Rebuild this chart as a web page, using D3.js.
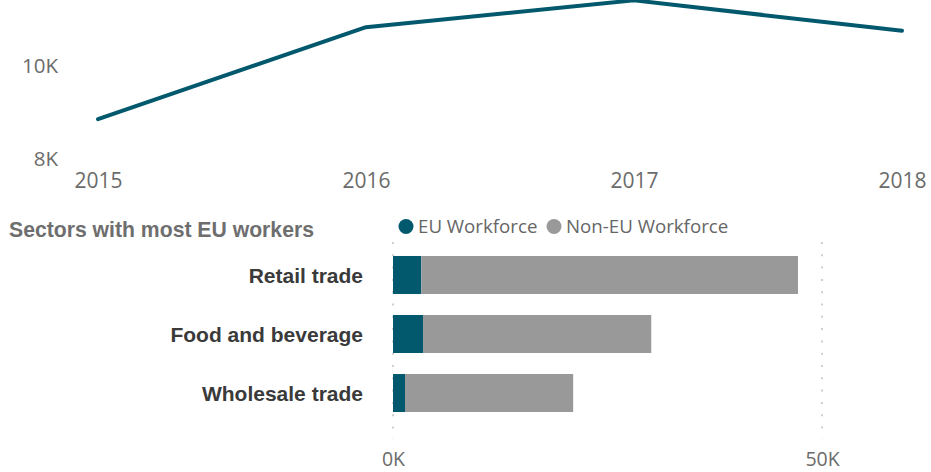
<!DOCTYPE html>
<html>
<head>
<meta charset="utf-8">
<script src="https://cdn.jsdelivr.net/npm/d3@7"></script>
<style>
  html, body { margin: 0; padding: 0; background: #ffffff; }
  svg { display: block; }
</style>
</head>
<body>
<svg id="chart" width="931" height="472"></svg>
<script>
// EU workforce trend by year
const years = ["2015", "2016", "2017", "2018"];
const workforce = [8850, 10840, 11420, 10760];
const trendTicks = [8000, 10000];

// Sector breakdown
const sectors = ["Retail trade", "Food and beverage", "Wholesale trade"];
const euWorkforce = [3300, 3500, 1400];
const nonEuWorkforce = [43900, 26600, 19600];
const sectorTicks = [0, 50000];
const seriesNames = ["EU Workforce", "Non-EU Workforce"];
const seriesColors = ["#02586c", "#999999"];

const svg = d3.select("#chart");
const kFormat = d => (d / 1000) + "K";
const axisFont = '"Open Sans", "Noto Sans", sans-serif';
const boldFont = '"Liberation Sans", Arial, sans-serif';

// ---------- Line chart ----------
const xYear = d3.scalePoint().domain(years).range([98, 902]);
const yWork = d3.scaleLinear().domain([8000, 10000]).range([158.5, 66]);

const lineG = svg.append("g");

const yAxis = lineG.append("g")
  .attr("transform", "translate(58,0)")
  .call(d3.axisLeft(yWork).tickValues(trendTicks).tickFormat(kFormat).tickSize(0).tickPadding(0));
yAxis.select(".domain").remove();
yAxis.selectAll("text").attr("font-family", axisFont).attr("font-size", 20.5).attr("fill", "#6b6b6b");

const xAxis = lineG.append("g")
  .attr("transform", "translate(0,173)")
  .call(d3.axisBottom(xYear).tickSize(0).tickPadding(0));
xAxis.select(".domain").remove();
xAxis.selectAll("text").attr("font-family", axisFont).attr("font-size", 21).attr("fill", "#6b6b6b");

const trend = years.map((yr, i) => ({ year: yr, value: workforce[i] }));
lineG.append("path")
  .datum(trend)
  .attr("fill", "none")
  .attr("stroke", seriesColors[0])
  .attr("stroke-width", 4)
  .attr("stroke-linejoin", "round")
  .attr("stroke-linecap", "round")
  .attr("d", d3.line().x(d => xYear(d.year)).y(d => yWork(d.value)));

// ---------- Stacked bar chart ----------
const barG = svg.append("g");

barG.append("text")
  .attr("x", 9)
  .attr("y", 237)
  .attr("font-family", boldFont)
  .attr("font-weight", "bold")
  .attr("font-size", 21.2)
  .attr("fill", "#6e6e6e")
  .text("Sectors with most EU workers");

// Legend
const legendPos = [{ cx: 406, tx: 418 }, { cx: 554, tx: 566 }];
const legend = barG.selectAll("g.legend")
  .data(seriesNames)
  .join("g")
  .attr("class", "legend");
legend.append("circle")
  .attr("cx", (d, i) => legendPos[i].cx)
  .attr("cy", 226.5)
  .attr("r", 7.5)
  .attr("fill", (d, i) => seriesColors[i]);
legend.append("text")
  .attr("x", (d, i) => legendPos[i].tx)
  .attr("y", 233)
  .attr("font-family", axisFont)
  .attr("font-size", 18.7)
  .attr("fill", "#666666")
  .text(d => d);

const xVal = d3.scaleLinear().domain([0, 50000]).range([393, 822]);
const ySector = d3.scaleBand().domain(sectors).range([242, 426]).paddingInner(0.356).paddingOuter(0.237);

// Dotted gridlines
barG.selectAll("line.grid")
  .data(sectorTicks)
  .join("line")
  .attr("class", "grid")
  .attr("x1", d => xVal(d)).attr("x2", d => xVal(d))
  .attr("y1", 242).attr("y2", 439)
  .attr("stroke", "#cfcfcf")
  .attr("stroke-width", 2)
  .attr("stroke-dasharray", "2 10.3");

// Stacked bars
const rows = sectors.map((s, i) => ({ sector: s, eu: euWorkforce[i], nonEu: nonEuWorkforce[i] }));
const stacked = d3.stack().keys(["eu", "nonEu"])(rows);

barG.selectAll("g.series")
  .data(stacked)
  .join("g")
  .attr("class", "series")
  .attr("fill", (d, i) => seriesColors[i])
  .selectAll("rect")
  .data(d => d)
  .join("rect")
  .attr("x", d => xVal(d[0]))
  .attr("width", d => xVal(d[1]) - xVal(d[0]))
  .attr("y", d => ySector(d.data.sector))
  .attr("height", ySector.bandwidth());

// Category labels
barG.selectAll("text.cat")
  .data(sectors)
  .join("text")
  .attr("class", "cat")
  .attr("x", 363)
  .attr("y", d => ySector(d) + ySector.bandwidth() / 2)
  .attr("dy", "0.4em")
  .attr("text-anchor", "end")
  .attr("font-family", boldFont)
  .attr("font-weight", "bold")
  .attr("font-size", 21)
  .attr("fill", "#3a3a3a")
  .text(d => d);

// Value axis
const valAxis = barG.append("g")
  .attr("transform", "translate(0,452)")
  .call(d3.axisBottom(xVal).tickValues(sectorTicks).tickFormat(kFormat).tickSize(0).tickPadding(0));
valAxis.select(".domain").remove();
valAxis.selectAll("text").attr("font-family", axisFont).attr("font-size", 19.5).attr("fill", "#6b6b6b");
</script>
</body>
</html>
